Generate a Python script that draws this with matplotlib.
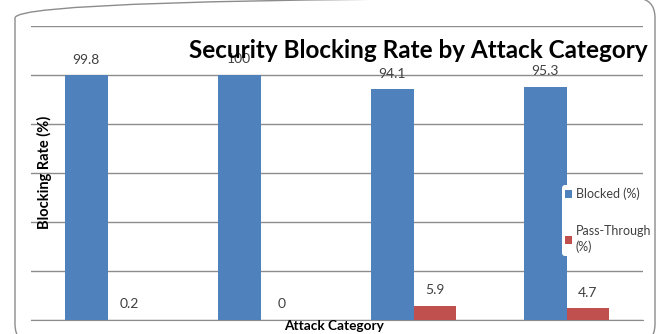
#Security blocking rate per attack category, Excel-style grouped bars

import matplotlib.pyplot as plt
import numpy as np
from matplotlib.patches import FancyBboxPatch

categories = ['Cat 1', 'Cat 2', 'Cat 3', 'Cat 4']
blocked = [99.8, 100, 94.1, 95.3]
pass_through = [0.2, 0, 5.9, 4.7]

plt.rcParams['font.family'] = ['Lato', 'DejaVu Sans']

fig = plt.figure(figsize=(6.66, 3.34), dpi=100)
ax = fig.add_axes([31/666, 1-320/334, 612/666, 294/334])

x = np.arange(len(categories))
w = 0.28
b1 = ax.bar(x - w/2, blocked, w, color='#4F81BD', label='Blocked (%)', zorder=3)
b2 = ax.bar(x + w/2, pass_through, w, color='#C0504D', label='Pass-Through\n(%)', zorder=3)
ax.bar_label(b1, labels=['%g' % v for v in blocked], padding=7, fontsize=10, color='#404040')
ax.bar_label(b2, labels=['%g' % v for v in pass_through], padding=7, fontsize=10, color='#404040')

ax.set_xlim(-0.5, len(categories) - 0.5)
ax.set_ylim(0, 120)
ax.set_yticks(np.arange(0, 121, 20))
ax.yaxis.grid(True, color='#8c8c8c', linewidth=1.0, zorder=0)
ax.set_xticks([])
ax.tick_params(left=False, labelleft=False)
for s in ['top', 'right', 'left']:
    ax.spines[s].set_visible(False)
ax.spines['bottom'].set_color('#8c8c8c')

fig.text(418/666, 1-51/334, 'Security Blocking Rate by Attack Category', ha='center', va='center',
         fontsize=17.5, fontweight='bold', color='black')
fig.text(44/666, 1-172/334, 'Blocking Rate (%)', rotation=90, ha='center', va='center',
         fontsize=10.5, fontweight='bold', color='black')
fig.text(334/666, 1-326/334, 'Attack Category', ha='center', va='center',
         fontsize=9.8, fontweight='bold', color='black')

leg = ax.legend(loc='upper left', bbox_to_anchor=(562/666, 1-185/334), bbox_transform=fig.transFigure,
                fontsize=9, frameon=True, facecolor='white', edgecolor='none', framealpha=1,
                handlelength=0.6, handleheight=0.6, handletextpad=0.3, labelspacing=2.0,
                borderpad=0.2, borderaxespad=0)
for t in leg.get_texts():
    t.set_color('#404040')
    t.set_linespacing(1.35)

frame = FancyBboxPatch((15/666, -10/334), 640/666, 346/334, boxstyle='round,pad=0,rounding_size=0.03',
                       transform=fig.transFigure, facecolor='none', edgecolor='#8c8c8c', linewidth=1.0,
                       mutation_aspect=666/334)
fig.patches.append(frame)

plt.savefig('out.png', dpi=100)
